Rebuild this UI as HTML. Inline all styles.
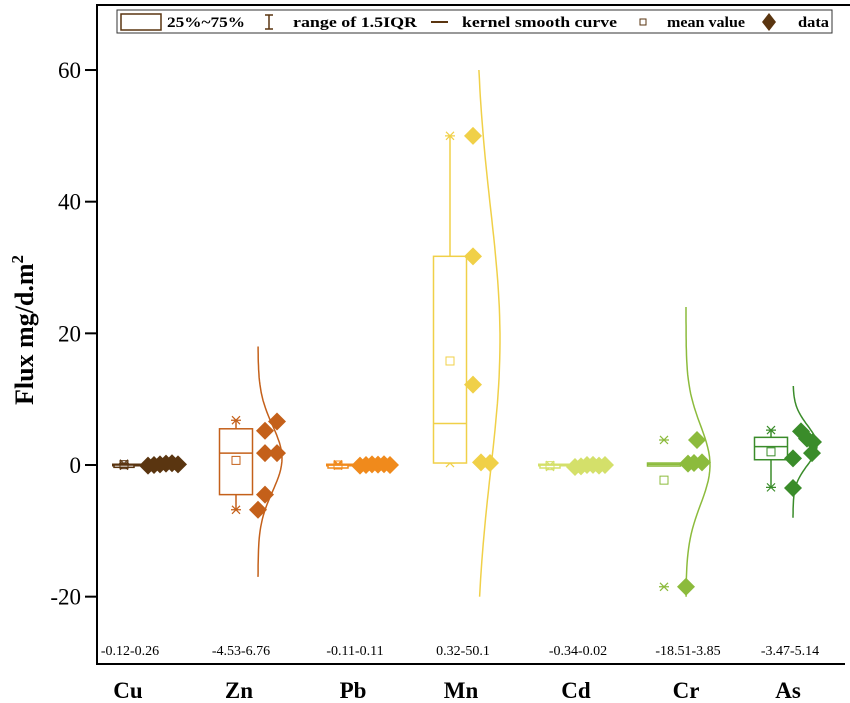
<!DOCTYPE html>
<html><head><meta charset="utf-8"><style>
body{margin:0;background:#fff}
svg{display:block;font-family:"Liberation Serif",serif}
</style></head><body>
<svg id="c" width="850" height="703"></svg>
<script>
const categories=["Cu","Zn","Pb","Mn","Cd","Cr","As"];
const rangeLabels=["-0.12-0.26","-4.53-6.76","-0.11-0.11","0.32-50.1","-0.34-0.02","-18.51-3.85","-3.47-5.14"];
const colors=["#5a3510","#c4601a","#f08a1c","#f0d048","#d4e06a","#8cbb3c","#3a8c2a"];
const q1=[0,-4.5,0,0.3,-0.1,0,0.8];
const q3=[0.1,5.5,0,31.7,0,0.3,4.2];
const medians=[0,1.8,0,6.3,0,0.1,2.8];
const means=[0.05,0.7,0,15.8,-0.1,-2.3,2.0];
const whiskLo=[-0.1,-6.8,-0.1,0.3,-0.3,-18.5,-3.4];
const whiskHi=[0.2,6.8,0.1,50,0,3.8,5.3];
const dataPts=[
 [-0.1,0,0.1,0.2,0.26,0.1],
 [6.6,5.2,1.8,1.8,-4.5,-6.8],
 [-0.1,0,0.1,0.05,0.11,0],
 [50,31.7,12.2,0.4,0.3],
 [-0.3,-0.2,0,0.02,-0.1,0],
 [3.8,0.2,0.3,0.4,-18.5],
 [5.1,4.0,3.5,1.8,1.0,-3.5]];
const curveTop=[null,18,null,60,null,24,12];
const curveBot=[null,-17,null,-20,null,-20,-8];
const curvePeak=[null,1,null,19,null,0,3];
const curveSd=[null,5,null,20,null,6,3];
const yTicks=[-20,0,20,40,60];

// layout (pixel positions, not data)
const labelX=[130,241,355,463,578,688,790];
const boxCx=[124,236,338,450,550,664,771];
const diaX=[148,265,360,473,575,688,795];
const curveX=[null,258,null,476,null,686,793];
const jitter=[[0,6,12,18,24,30],[12,0,0,12,0,-7],[0,6,12,18,24,30],[0,0,0,8,17],[0,6,12,18,24,30],[9,0,6,14,-2],[6,12,18,17,-2,-2]];
const showWhiskLine=[false,true,false,true,false,false,true];

const NS="http://www.w3.org/2000/svg";
const svg=document.getElementById('c');
function mk(t,a,p){const e=document.createElementNS(NS,t);for(const k in a)e.setAttribute(k,a[k]);(p||svg).appendChild(e);return e;}
const X0=97,Y0=664,plotR=845;
const y=v=>465-v*6.583;

let ax=mk('line',{x1:X0,y1:4,x2:X0,y2:Y0,stroke:'#000','stroke-width':2});

let ax2=mk('line',{x1:X0-1,y1:Y0,x2:plotR,y2:Y0,stroke:'#000','stroke-width':2});

let tb=mk('line',{x1:X0-1,y1:5,x2:850,y2:5,stroke:'#000','stroke-width':2});

yTicks.forEach(v=>{
 mk('line',{x1:X0-12,y1:y(v),x2:X0,y2:y(v),stroke:'#000','stroke-width':2});
 const t=mk('text',{x:X0-16,y:y(v)+8,'text-anchor':'end','font-size':23});t.textContent=v;
 
});
const yt=mk('text',{x:0,y:0,'text-anchor':'middle','font-size':26,'font-weight':'bold',transform:'translate(33,330) rotate(-90)'});
yt.innerHTML='Flux mg/d.m<tspan dy="-10" font-size="17">2</tspan>';


function star(x,yy,col,g){mk('path',{d:`M${x-4},${yy-4}L${x+4},${yy+4}M${x-4},${yy+4}L${x+4},${yy-4}M${x-5},${yy}L${x+5},${yy}`,stroke:col,'stroke-width':1.2},g);}
function diamond(x,yy,col,g){mk('path',{d:`M${x},${yy-9}L${x+9},${yy}L${x},${yy+9}L${x-9},${yy}Z`,fill:col},g);}

categories.forEach((c,i)=>{
 const g=mk('g',{});
 const col=colors[i];
 const hasCurve=curveTop[i]!==null;
 const bw=hasCurve?33:20;
 const bl=boxCx[i]-bw/2;
 if(showWhiskLine[i]) mk('line',{x1:boxCx[i],y1:y(whiskHi[i]),x2:boxCx[i],y2:y(whiskLo[i]),stroke:col,'stroke-width':1.5},g);
 if(!hasCurve) mk('line',{x1:boxCx[i]-12,y1:y(0),x2:diaX[i],y2:y(0),stroke:col,'stroke-width':3},g);
 star(boxCx[i],y(whiskHi[i]),col,g);star(boxCx[i],y(whiskLo[i]),col,g);
 const h=Math.max(3,y(q1[i])-y(q3[i]));
 mk('rect',{x:bl,y:y(q3[i]),width:bw,height:h,fill:'#fff',stroke:col,'stroke-width':1.5},g);
 mk('line',{x1:bl,y1:y(medians[i]),x2:bl+bw,y2:y(medians[i]),stroke:col,'stroke-width':1.5},g);
 mk('rect',{x:boxCx[i]-4,y:y(means[i])-4,width:8,height:8,fill:'none',stroke:col,'stroke-width':1},g);
 dataPts[i].forEach((v,j)=>{diamond(diaX[i]+jitter[i][j],y(v),col,g);});
 if(hasCurve){
   const base=curveX[i];let d='';
   for(let k=0;k<=60;k++){const v=curveTop[i]+(curveBot[i]-curveTop[i])*k/60;
     const w=base+24*Math.exp(-Math.pow(v-curvePeak[i],2)/(2*curveSd[i]*curveSd[i]));
     d+=(k?'L':'M')+w.toFixed(1)+','+y(v).toFixed(1);}
   mk('path',{d:d,fill:'none',stroke:col,'stroke-width':1.5},g);
 }
 const rl=mk('text',{x:labelX[i],y:655,'text-anchor':'middle','font-size':14});rl.textContent=rangeLabels[i];
 
 const cl=mk('text',{x:labelX[i]-2,y:698,'text-anchor':'middle','font-size':23,'font-weight':'bold'});cl.textContent=c;
 
});

const lg=mk('g',{});
mk('rect',{x:117,y:10,width:715,height:23,fill:'#fff',stroke:'#333','stroke-width':1},lg);
mk('rect',{x:121,y:14,width:40,height:16,fill:'none',stroke:'#5a3510','stroke-width':1.5},lg);
function lt(x,s,w){const t=mk('text',{x:x,y:27,'font-size':15,'font-weight':'bold',textLength:w,lengthAdjust:'spacingAndGlyphs'},lg);t.textContent=s;}
lt(167,'25%~75%',78);
mk('path',{d:'M269,15L269,29M265,15L273,15M265,29L273,29',stroke:'#5a3510','stroke-width':1.5},lg);
lt(293,'range of 1.5IQR',124);
mk('line',{x1:431,y1:22,x2:448,y2:22,stroke:'#5a3510','stroke-width':2},lg);
lt(462,'kernel smooth curve',155);
mk('rect',{x:640,y:19,width:6,height:6,fill:'none',stroke:'#5a3510','stroke-width':1},lg);
lt(667,'mean value',78);
mk('path',{d:'M769,13L776,22L769,31L762,22Z',fill:'#5a3510'},lg);
lt(798,'data',31);
</script>
</body></html>
